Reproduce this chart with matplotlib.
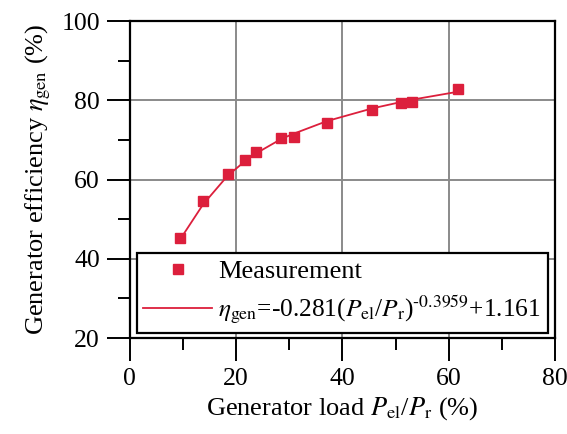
import numpy as np
import matplotlib
matplotlib.use("Agg")
import matplotlib.pyplot as plt
from matplotlib.ticker import MultipleLocator

# Measurement points: generator load (%) and efficiency (%)
load = [9.5, 13.8, 18.4, 21.6, 23.7, 28.5, 30.8, 37.1, 45.6, 51.0, 53.1, 61.7]
eff = [45.2, 54.5, 61.4, 64.9, 67.0, 70.6, 70.9, 74.2, 77.7, 79.3, 79.7, 82.9]

fit_eff = [45.0, 53.8, 61.0, 64.6, 66.6, 70.3, 71.6, 74.8, 78.0, 79.6, 80.2, 82.2]

red = "#dc1f3c"

plt.rcParams["font.family"] = "Liberation Serif"
plt.rcParams["mathtext.fontset"] = "stix"

fig = plt.figure(figsize=(5.67, 4.34), dpi=100)
ax = fig.add_axes([0.229, 0.221, 0.750, 0.730])

ax.plot(load, fit_eff, "-", color=red, lw=1.3, zorder=3,
        label=r"$\eta_{\mathrm{gen}}$=-0.281($P_{\mathrm{el}}$/$P_{\mathrm{r}}$)$^{\text{-}0.3959}$+1.161")
ax.plot(load, eff, "s", color=red, ms=7.5, mec=red, zorder=4, label="Measurement")

ax.set_xlim(0, 80)
ax.set_ylim(20, 100)
ax.xaxis.set_major_locator(MultipleLocator(20))
ax.xaxis.set_minor_locator(MultipleLocator(10))
ax.yaxis.set_major_locator(MultipleLocator(20))
ax.yaxis.set_minor_locator(MultipleLocator(10))
ax.grid(True, which="major", color="#8a8a8a", lw=1.4)
ax.set_axisbelow(True)

ax.tick_params(which="major", direction="out", length=16.5, width=1.4, labelsize=18.5, pad=5)
ax.tick_params(which="minor", direction="out", length=8.5, width=1.4)
for s in ax.spines.values():
    s.set_linewidth(1.6)

ax.set_xlabel(r"Generator load $P_{\mathrm{el}}$/$P_{\mathrm{r}}$ (%)", fontsize=19, labelpad=4)
ax.set_ylabel(r"Generator efficiency $\eta_{\mathrm{gen}}$ (%)", fontsize=19, labelpad=6)

# measurement first in the legend
h, l = ax.get_legend_handles_labels()
leg = ax.legend(h[::-1], l[::-1], loc="lower left", bbox_to_anchor=(0.016, 0.016),
                fontsize=19, frameon=True, fancybox=False, framealpha=1,
                edgecolor="black", handlelength=2.6, handletextpad=0.25,
                borderpad=0.25, labelspacing=0.4, borderaxespad=0)
leg.get_frame().set_linewidth(1.6)
leg.get_texts()[1].set_fontsize(18.3)

plt.savefig("out.png", dpi=100)
